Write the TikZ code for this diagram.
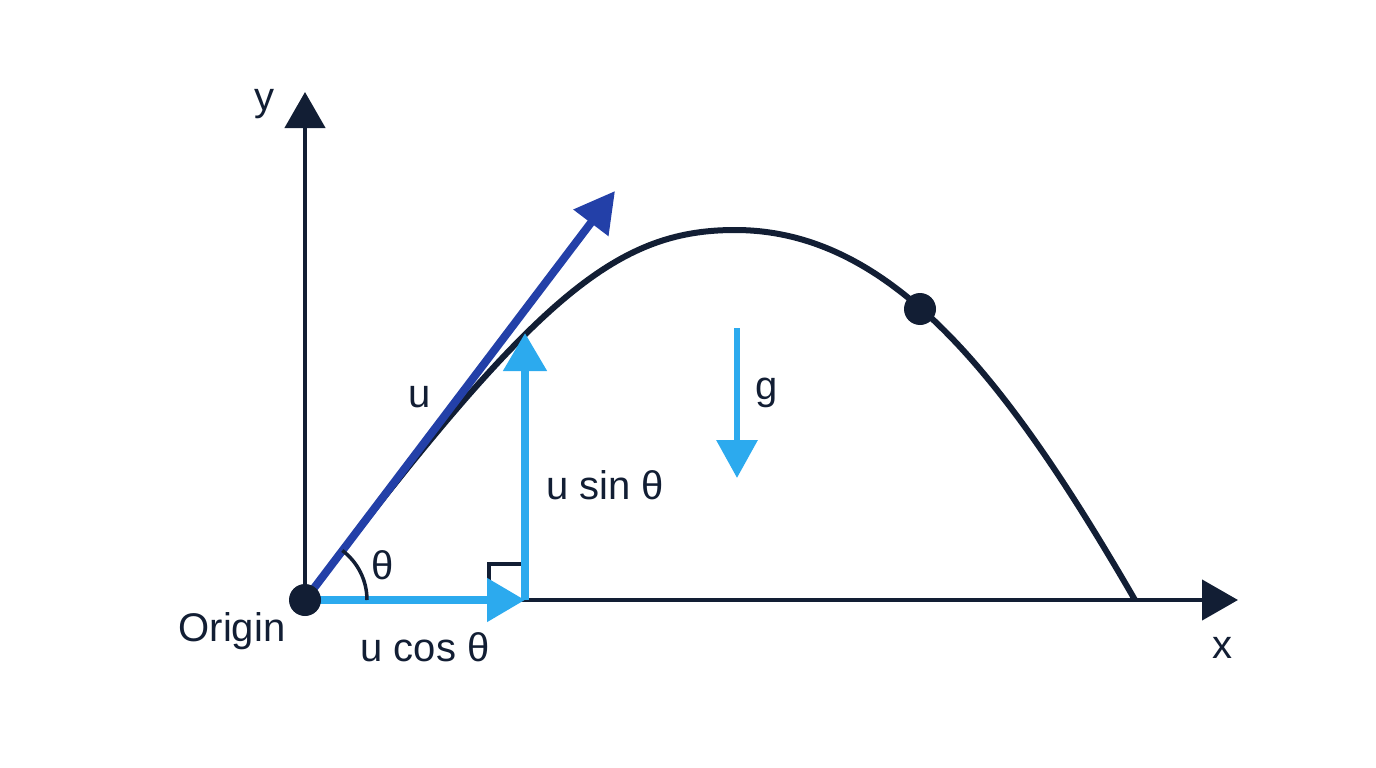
\documentclass[tikz,border=0pt]{standalone}
\usepackage{fontspec}
\setmainfont{Liberation Sans}
\usetikzlibrary{arrows.meta,calc}
\definecolor{navy}{RGB}{18,30,52}
\definecolor{ublue}{RGB}{35,64,168}
\definecolor{lblue}{RGB}{44,170,238}
\tikzset{
  axisline/.style={draw=navy, line width=4.5pt, -{Triangle[length=36pt,width=40pt]}},
  traj/.style={draw=navy, line width=6pt},
  uvec/.style={draw=ublue, line width=8pt, -{Triangle[length=40pt,width=42pt]}},
  comp/.style={draw=lblue, line width=8pt, -{Triangle[length=38pt,width=42pt]}},
  gvec/.style={draw=lblue, line width=6.5pt, -{Triangle[length=38pt,width=40pt]}},
  thin/.style={draw=navy, line width=3.5pt},
  lbl/.style={text=navy, font=\fontsize{40}{46}\selectfont, inner sep=0pt},
  dot/.style={circle, fill=navy, minimum size=32pt, inner sep=0pt}
}
\begin{document}
\begin{tikzpicture}[x=1pt,y=-1pt]
\useasboundingbox (0,0) rectangle (1376,768);
% points
\coordinate (O) at (305,600);
\coordinate (ytip) at (305,92);
\coordinate (xtip) at (1238,600);
\coordinate (peak) at (735,230);
\coordinate (land) at (1135,600);
\coordinate (utip) at (615,191);
\coordinate (cfoot) at (525,600);
\coordinate (stip) at (525,333);
\coordinate (gtop) at (737,328);
\coordinate (gtip) at (737,478);
\coordinate (arcstart) at (367,600);
% axes
\draw[axisline] (O) -- (ytip);
\draw[axisline] (O) -- (xtip);
% trajectory
\draw[traj] (O) .. controls (534,297) and (615,230) .. (peak)
  .. controls (890,230) and (1005,375) .. (land);
% right angle marker
\draw[thin] (489,600) -- (489,564) -- (525,564);
% components
\draw[comp] (O) -- (cfoot);
\draw[comp] (cfoot) -- (stip);
% u vector
\draw[uvec] (O) -- (utip);
% angle arc (y axis points down, so angles run clockwise)
\draw[thin] (arcstart) arc[start angle=0, end angle=-53, radius=62];
% dots
\node[dot] (origin) at (O) {};
\node[dot] (ball) at (920,309) {};
% gravity
\draw[gvec] (gtop) -- (gtip);
% labels
\node[lbl] (ylab) at (264,104) {y};
\node[lbl] (xlab) at (1222,648) {x};
\node[lbl] (olab) at (232,631) {Origin};
\node[lbl] (ulab) at (420,397) {u};
\node[lbl] (thlab) at (383,565) {θ};
\node[lbl] (clab) at (425,647) {u cos θ};
\node[lbl] (slab) at (605,485) {u sin θ};
\node[lbl] (glab) at (767,393) {g};
\end{tikzpicture}
\end{document}
